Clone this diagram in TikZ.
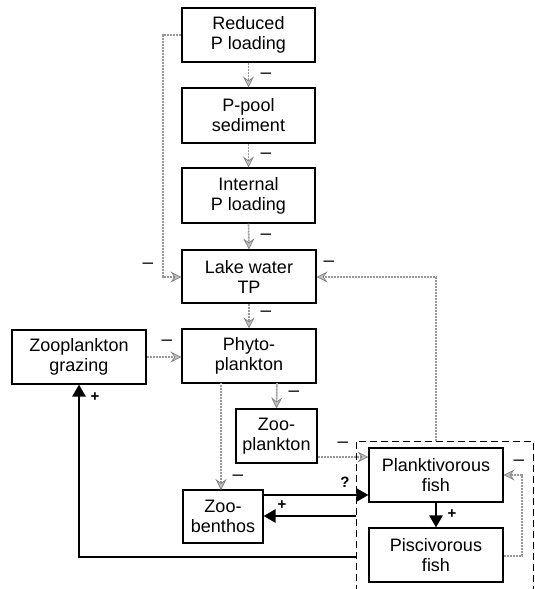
\documentclass[tikz,border=0pt]{standalone}
\usepackage{fontspec}
\setmainfont{Liberation Sans}
\usetikzlibrary{arrows.meta}
\begin{document}
\begin{tikzpicture}[x=1pt,y=-1pt,
  box/.style={draw=black,line width=1.1pt,align=center,inner sep=0pt,
    font=\fontsize{18}{20}\selectfont},
  gcon/.style={draw=black!40,line width=1.6pt,dash pattern=on 1pt off 0.5pt,
    -{Stealth[length=11pt,width=11pt,inset=4pt,fill=black!25,color=black!50,line width=0.7pt]}},
  bcon/.style={draw=black,line width=2.6pt,-{Triangle[length=12pt,width=13pt]}},
  lab/.style={font=\fontsize{15}{15}\selectfont\bfseries,inner sep=0pt},
  dlab/.style={font=\fontsize{19}{19}\selectfont,inner sep=0pt}]
\useasboundingbox (0,0) rectangle (535,589);
% boxes
\node[box,minimum width=133pt,minimum height=54pt] (red) at (248.5,35) {Reduced\\P loading};
\node[box,minimum width=133pt,minimum height=55pt] (ppool) at (248.5,115.5) {P-pool\\sediment};
\node[box,minimum width=133pt,minimum height=55pt] (int) at (248.5,195.5) {Internal\\P loading};
\node[box,minimum width=134pt,minimum height=53pt] (lake) at (249,276.5) {Lake water\\TP};
\node[box,minimum width=134pt,minimum height=54pt] (phyto) at (249,356) {Phyto-\\plankton};
\node[box,minimum width=134pt,minimum height=54pt] (graz) at (79,357) {Zooplankton\\grazing};
\node[box,minimum width=81pt,minimum height=54pt] (zoopl) at (276.5,436) {Zoo-\\plankton};
\node[box,minimum width=80pt,minimum height=53pt] (benth) at (223,516.5) {Zoo-\\benthos};
\node[box,minimum width=134pt,minimum height=54pt] (plank) at (436,475) {Planktivorous\\fish};
\node[box,minimum width=134pt,minimum height=54pt] (pisc) at (436,555) {Piscivorous\\fish};
% dashed fish box
\draw[line width=1pt,dash pattern=on 7pt off 4pt] (356,592) -- (356,441) -- (533,441) -- (533,592);
\coordinate (dtop) at (436,441);
\coordinate (dl1) at (356,516);
\coordinate (dl2) at (356,557);
% grey connectors
\draw[gcon] (red.south) -- (ppool.north);
\draw[gcon] (ppool.south) -- (int.north);
\draw[gcon] (int.south) -- (lake.north);
\draw[gcon] (red.west) -- (163,35) -- (163,277) -- (lake.west |- 0,277);
\draw[gcon] (lake.south) -- (phyto.north);
\draw[gcon] (graz.east |- 0,357) -- (phyto.west |- 0,357);
\draw[gcon] (277,383) -- (zoopl.north);
\draw[gcon] (221,383) -- (221,490);
\draw[gcon] (zoopl.east |- 0,457) -- (plank.west |- 0,457);
\draw[gcon] (dtop) -- (436,277) -- (lake.east |- 0,277);
\draw[gcon] (pisc.east |- 0,556) -- (522,556) -- (522,475) -- (plank.east);
% black connectors
\draw[bcon] (benth.east |- 0,495) -- (plank.west |- 0,495);
\draw[bcon] (dl1) -- (benth.east |- dl1);
\draw[bcon] (plank.south) -- (pisc.north);
\draw[bcon] (dl2) -- (79,557) -- (graz.south);
% labels
\node[dlab] at (266,76) {–};
\node[dlab] at (266,156) {–};
\node[dlab] at (266,237) {–};
\node[dlab] at (148,266) {–};
\node[dlab] at (266,314) {–};
\node[dlab] at (167,343) {–};
\node[dlab] at (294,394) {–};
\node[dlab] at (238,478) {–};
\node[dlab] at (343,445) {–};
\node[dlab] at (329,264) {–};
\node[dlab] at (519,463) {–};
\node[lab] at (345,482) {?};
\node[lab] at (282,505) {+};
\node[lab] at (452,514) {+};
\node[lab] at (95,397) {+};
\end{tikzpicture}
\end{document}
